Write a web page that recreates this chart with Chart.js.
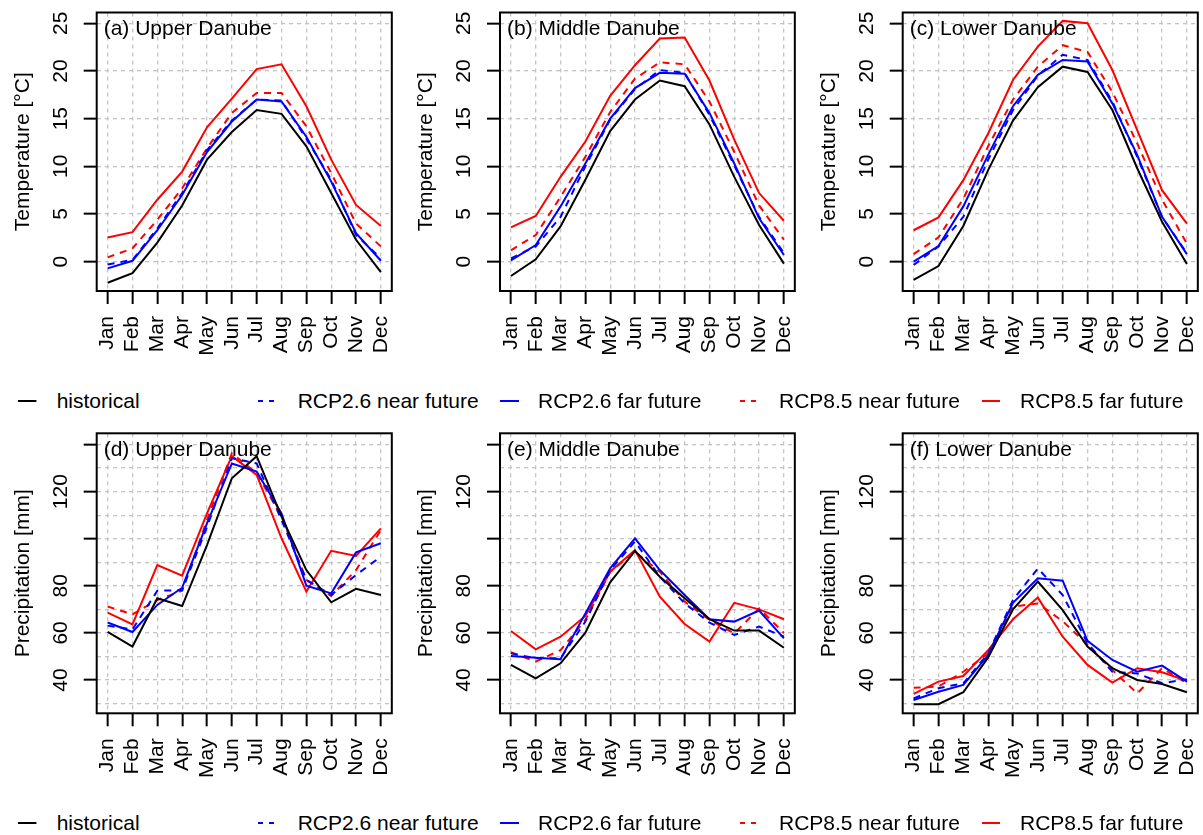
<!DOCTYPE html>
<html>
<head>
<meta charset="utf-8">
<script src="https://cdn.jsdelivr.net/npm/chart.js@4/dist/chart.umd.min.js"></script>
<style>
html,body{margin:0;padding:0;background:#fff;overflow:hidden;}
body{width:1203px;height:835px;position:relative;font-family:"Liberation Sans",Arial,sans-serif;}
canvas{position:absolute;}
.legtext{position:absolute;font-size:21px;line-height:21px;color:#000;white-space:nowrap;}
.legline{position:absolute;}
</style>
</head>
<body>
<script>
// ---------- data ----------
const months = ['Jan','Feb','Mar','Apr','May','Jun','Jul','Aug','Sep','Oct','Nov','Dec'];
const seriesNames = ['historical','RCP2.6 near future','RCP2.6 far future','RCP8.5 near future','RCP8.5 far future'];

// Temperature [°C]
const upperTempHist   = [-2.2,-1.2,2.0,5.9,10.7,13.6,15.9,15.5,12.1,7.2,2.3,-1.1];
const upperTemp26Near = [-0.3,0.2,3.5,7.2,11.7,14.8,17.0,16.9,12.9,8.6,2.8,0.35];
const upperTemp26Far  = [-0.7,0.1,3.3,7.0,11.5,14.7,17.0,16.8,13.1,8.4,3.0,0.1];
const upperTemp85Near = [0.45,1.4,4.4,7.7,11.9,15.6,17.7,17.7,14.2,9.3,4.0,1.6];
const upperTemp85Far  = [2.55,3.1,6.5,9.45,14.1,17.1,20.2,20.7,16.3,10.7,5.95,3.75];

const middleTempHist   = [-1.5,0.25,3.7,8.6,13.7,17.0,19.0,18.4,14.4,8.9,3.85,-0.2];
const middleTemp26Near = [0.35,1.6,4.7,10.0,14.9,18.1,20.1,19.8,15.4,10.1,4.7,0.9];
const middleTemp26Far  = [0.15,1.75,5.8,10.3,15.0,18.2,19.8,19.7,15.6,10.3,4.55,0.7];
const middleTemp85Near = [1.2,2.8,6.8,11.0,15.7,19.2,20.9,20.7,16.8,11.5,5.9,2.3];
const middleTemp85Far  = [3.6,4.8,8.9,12.6,17.4,20.6,23.4,23.5,19.0,12.8,7.2,4.3];

const lowerTempHist   = [-1.9,-0.45,3.75,9.6,14.8,18.3,20.45,19.9,15.9,9.8,4.2,-0.25];
const lowerTemp26Near = [-0.35,1.6,4.7,10.7,15.9,19.5,21.7,21.15,16.8,11.0,4.7,0.9];
const lowerTemp26Far  = [0.0,1.65,5.8,11.2,16.3,19.6,21.15,21.0,16.6,11.2,4.7,0.8];
const lowerTemp85Near = [0.8,2.55,6.6,12.1,17.0,20.45,22.7,22.0,17.8,12.4,6.5,1.9];
const lowerTemp85Far  = [3.3,4.65,8.55,13.45,19.05,22.55,25.25,25.0,20.1,13.8,7.5,4.0];

// Precipitation [mm]
const upperPrecHist   = [60.4,54.2,74.7,71.4,97.3,125.7,135.1,109.4,86.7,73.0,78.7,76.1];
const upperPrec26Near = [63.1,61.5,77.9,78.2,105,134.2,132,108,82.5,76.1,84.6,92.4];
const upperPrec26Far  = [64.4,60.4,71.9,79.2,106.5,132.0,128.5,110.8,80.1,76.8,94.2,98.1];
const upperPrec85Near = [71.2,67.9,74.0,77.9,108,136.3,127.8,109.4,82.5,75.7,86.7,103.7];
const upperPrec85Far  = [68.6,63.6,88.8,84.3,110.8,135.1,127.1,100.2,77.5,94.9,92.7,104.4];

const middlePrecHist   = [46.4,40.7,47.1,60.1,81.5,94.8,83.9,74.7,65.8,61.0,61.0,53.7];
const middlePrec26Near = [51.3,49.2,49.2,64.8,86.7,98.8,83.9,72.6,64.4,59.1,62.7,58.4];
const middlePrec26Far  = [50.2,49.5,48.8,68.3,87.4,100.2,86.7,76.1,65.8,64.8,69.5,57.7];
const middlePrec85Near = [51.8,47.8,52.7,65.5,86.0,94.5,86.0,73.3,65.5,59.8,70.4,60.0];
const middlePrec85Far  = [60.8,53.0,58.4,67.2,86.0,95.2,75.4,63.8,56.3,72.8,70.0,65.8];

const lowerPrecHist   = [29.7,29.7,34.8,49.6,70.0,81.8,69.7,54.2,45.0,40.0,38.3,34.8];
const lowerPrec26Near = [32.2,36.5,38.6,51.3,74.0,87.4,76.1,55.6,43.5,42.8,38.6,40.3];
const lowerPrec26Far  = [31.5,35.0,37.9,50.6,72.8,83.2,82.2,56.6,48.5,43.5,46.1,39.3];
const lowerPrec85Near = [36.7,37.2,43.5,51.3,71.2,72.5,65.0,55.0,44.2,34.3,45.0,38.6];
const lowerPrec85Far  = [34.1,39.3,41.7,52.7,65.8,75.0,58.4,46.4,38.9,45.0,43.3,39.7];

// axis ticks
const tempGridValues   = [0,5,10,15,20,25];
const tempTickMarks    = [0,5,10,15,20,25];
const tempTickLabels   = [0,5,10,15,20,25];
const precipGridValues = [30,40,50,60,70,80,90,100,110,120,130,140];
const precipTickMarks  = [40,60,80,100,120,140];
const precipTickLabels = [40,60,80,120];

// ---------- styles / layout ----------
const FONT = '"Liberation Sans", Arial, sans-serif';
const FSIZE = 21;
const seriesStyles = [
  {color:'#000000', dash:[]},
  {color:'#0000ff', dash:[7,6]},
  {color:'#0000ff', dash:[]},
  {color:'#ff0000', dash:[7,6]},
  {color:'#ff0000', dash:[]}
];

const framePlugin = {
  id: 'frame',
  afterDraw(chart, args, opts) {
    const ctx = chart.ctx, a = chart.chartArea, y = chart.scales.y;
    ctx.save();
    ctx.setLineDash([]);
    ctx.strokeStyle = '#000';
    ctx.lineWidth = 2;
    ctx.strokeRect(a.left, a.top, a.right - a.left, a.bottom - a.top);
    ctx.fillStyle = '#000';
    ctx.font = FSIZE + 'px ' + FONT;
    opts.yLabels.forEach(v => {
      const py = y.getPixelForValue(v);
      ctx.save();
      ctx.translate(a.left - 30, py);
      ctx.rotate(-Math.PI / 2);
      ctx.textAlign = 'center';
      ctx.textBaseline = 'alphabetic';
      ctx.fillText(String(v), 0, 0);
      ctx.restore();
    });
    ctx.save();
    ctx.translate(a.left - 68, (a.top + a.bottom) / 2);
    ctx.rotate(-Math.PI / 2);
    ctx.textAlign = 'center';
    ctx.textBaseline = 'alphabetic';
    ctx.fillText(opts.yTitle, 0, 0);
    ctx.restore();
    ctx.textAlign = 'left';
    ctx.textBaseline = 'alphabetic';
    ctx.fillText(opts.title, a.left + 7, a.top + 22.5);
    ctx.restore();
  }
};

function makePanel(p) {
  const box = p.box;
  const cx = Math.floor(box.l) - 96;
  const cy = p.cy, ch = p.ch;
  const cw = Math.ceil(box.r) - cx + 24;
  const c = document.createElement('canvas');
  c.width = cw; c.height = ch;
  c.style.left = cx + 'px'; c.style.top = cy + 'px';
  c.style.width = cw + 'px'; c.style.height = ch + 'px';
  document.body.appendChild(c);
  const yw = box.l - cx;
  const xh = cy + ch - box.b;
  const padTop = box.t - cy;
  const padRight = cx + cw - box.r;
  new Chart(c, {
    type: 'line',
    data: {
      datasets: p.series.map((vals, i) => ({
        label: seriesNames[i],
        data: vals.map((v, j) => ({x: j, y: v})),
        borderColor: seriesStyles[i].color,
        borderDash: seriesStyles[i].dash,
        borderWidth: 2,
        pointRadius: 0,
        tension: 0,
        fill: false
      }))
    },
    options: {
      responsive: false,
      animation: false,
      devicePixelRatio: 1,
      layout: {padding: {left: 0, right: padRight, top: padTop, bottom: 0}},
      plugins: {
        legend: {display: false},
        tooltip: {enabled: false},
        frame: {yLabels: p.yLabels, yTitle: p.yTitle, title: p.title}
      },
      scales: {
        x: {
          type: 'linear',
          min: -0.44, max: 11.44,
          afterBuildTicks: s => { s.ticks = months.map((m, i) => ({value: i})); },
          afterFit: s => { s.height = xh; },
          ticks: {
            callback: v => months[v],
            font: {family: FONT, size: FSIZE},
            color: '#000',
            minRotation: 90, maxRotation: 90,
            autoSkip: false,
            padding: 12
          },
          grid: {color: '#c4c4c4', lineWidth: 1.3, tickColor: '#000', tickWidth: 2, tickLength: 13, tickBorderDash: []},
          border: {display: false, dash: [4, 4]}
        },
        y: {
          type: 'linear',
          min: p.ymin, max: p.ymax,
          afterBuildTicks: s => { s.ticks = p.yGrid.map(v => ({value: v})); },
          afterFit: s => { s.width = yw; },
          ticks: {display: false},
          grid: {
            color: '#c4c4c4', lineWidth: 1.3,
            tickColor: ctx => (p.yMarks.includes(ctx.tick && ctx.tick.value) ? '#000' : 'rgba(0,0,0,0)'),
            tickWidth: 2, tickLength: 13, tickBorderDash: []
          },
          border: {display: false, dash: [4, 4]}
        }
      }
    },
    plugins: [framePlugin]
  });
}

const topRow = {cy: 0, ch: 380, t: 12.5, b: 291, ymin: -3.07, ymax: 26.13,
  yGrid: tempGridValues, yMarks: tempTickMarks, yLabels: tempTickLabels, yTitle: 'Temperature [°C]'};
const botRow = {cy: 420, ch: 380, t: 433.3, b: 713.3, ymin: 25.85, ymax: 144.8,
  yGrid: precipGridValues, yMarks: precipTickMarks, yLabels: precipTickLabels, yTitle: 'Precipitation [mm]'};
const cols = [{l: 96.7, r: 394.3}, {l: 500, r: 797.7}, {l: 902.7, r: 1200.3}];

const panelDefs = [
  {row: topRow, col: 0, title: '(a) Upper Danube',  series: [upperTempHist, upperTemp26Near, upperTemp26Far, upperTemp85Near, upperTemp85Far]},
  {row: topRow, col: 1, title: '(b) Middle Danube', series: [middleTempHist, middleTemp26Near, middleTemp26Far, middleTemp85Near, middleTemp85Far]},
  {row: topRow, col: 2, title: '(c) Lower Danube',  series: [lowerTempHist, lowerTemp26Near, lowerTemp26Far, lowerTemp85Near, lowerTemp85Far]},
  {row: botRow, col: 0, title: '(d) Upper Danube',  series: [upperPrecHist, upperPrec26Near, upperPrec26Far, upperPrec85Near, upperPrec85Far]},
  {row: botRow, col: 1, title: '(e) Middle Danube', series: [middlePrecHist, middlePrec26Near, middlePrec26Far, middlePrec85Near, middlePrec85Far]},
  {row: botRow, col: 2, title: '(f) Lower Danube',  series: [lowerPrecHist, lowerPrec26Near, lowerPrec26Far, lowerPrec85Near, lowerPrec85Far]}
];

panelDefs.forEach(d => {
  const r = d.row, c = cols[d.col];
  makePanel({
    cy: r.cy, ch: r.ch,
    box: {l: c.l, r: c.r, t: r.t, b: r.b},
    ymin: r.ymin, ymax: r.ymax,
    yGrid: r.yGrid, yMarks: r.yMarks, yLabels: r.yLabels, yTitle: r.yTitle,
    title: d.title, series: d.series
  });
});

// ---------- legends (HTML text) ----------
const legendLineY = [401, 823];
const legendPos = [
  {x1: 18.3, x2: 36.7, tx: 56.7},
  {x1: 258, x2: 278, tx: 297.7},
  {x1: 500, x2: 519, tx: 538},
  {x1: 740, x2: 760, tx: 779},
  {x1: 981.7, x2: 1000, tx: 1020}
];
legendLineY.forEach(ly => {
  seriesNames.forEach((name, i) => {
    const pos = legendPos[i], st = seriesStyles[i];
    const w = pos.x2 - pos.x1;
    const svgNS = 'http://www.w3.org/2000/svg';
    const svg = document.createElementNS(svgNS, 'svg');
    svg.setAttribute('class', 'legline');
    svg.setAttribute('width', w);
    svg.setAttribute('height', 6);
    svg.style.left = pos.x1 + 'px';
    svg.style.top = (ly - 3) + 'px';
    const ln = document.createElementNS(svgNS, 'line');
    ln.setAttribute('x1', 0); ln.setAttribute('x2', w);
    ln.setAttribute('y1', 3); ln.setAttribute('y2', 3);
    ln.setAttribute('stroke', st.color);
    ln.setAttribute('stroke-width', 2);
    if (st.dash.length) ln.setAttribute('stroke-dasharray', '5,6');
    svg.appendChild(ln);
    document.body.appendChild(svg);
    const t = document.createElement('div');
    t.className = 'legtext';
    t.textContent = name;
    t.style.left = pos.tx + 'px';
    t.style.top = (ly - 10.8) + 'px';
    document.body.appendChild(t);
  });
});
</script>
</body>
</html>
